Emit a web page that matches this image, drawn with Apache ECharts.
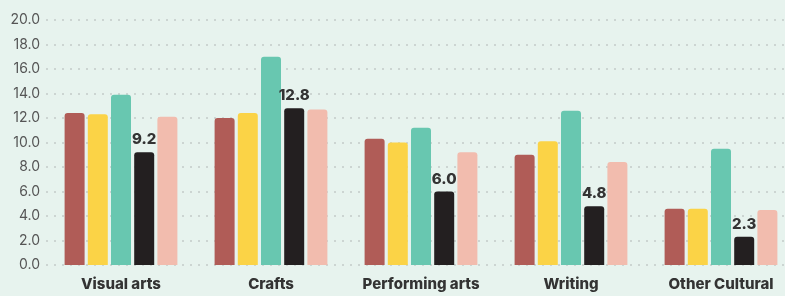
<!DOCTYPE html>
<html>
<head>
<meta charset="utf-8">
<script src="https://cdn.jsdelivr.net/npm/echarts@6/dist/echarts.min.js"></script>
<style>
  html, body { margin: 0; padding: 0; background: #e7f3ee; }
  #chart { width: 785px; height: 296px; }
</style>
</head>
<body>
<div id="chart"></div>
<script>
const categories = ["Visual arts", "Crafts", "Performing arts", "Writing", "Other Cultural"];
const seriesA = [12.4, 12.0, 10.3, 9.0, 4.6];
const seriesB = [12.3, 12.4, 10.0, 10.1, 4.6];
const seriesC = [13.9, 17.0, 11.2, 12.6, 9.5];
const seriesD = [9.2, 12.8, 6.0, 4.8, 2.3];
const seriesE = [12.1, 12.7, 9.2, 8.4, 4.5];
const colors = ["#b05c57", "#fbd346", "#68c7b0", "#231f20", "#f2bcae"];

const allSeries = [seriesA, seriesB, seriesC, seriesD, seriesE];

const option = {
  backgroundColor: "#e7f3ee",
  animation: false,
  // plot runs a bit past the right edge, as in the original
  grid: { left: 46, width: 750, top: 20, bottom: 31, outerBoundsMode: "none" },
  xAxis: {
    type: "category",
    data: categories,
    axisLine: { show: false },
    axisTick: { show: false },
    axisLabel: {
      interval: 0,
      margin: 12,
      color: "#333",
      fontFamily: "Inter",
      fontWeight: 800,
      fontSize: 15
    }
  },
  yAxis: {
    type: "value",
    min: 0,
    max: 20,
    interval: 2,
    axisLine: { show: false },
    axisTick: { show: false },
    axisLabel: {
      margin: 6,
      color: "#555",
      fontFamily: "Inter",
      fontSize: 14,
      formatter: v => v.toFixed(1)
    },
    splitLine: {
      lineStyle: { color: "#c4ccc9", type: [2, 6], width: 1.5 }
    }
  },
  series: allSeries.map((data, i) => ({
    type: "bar",
    data: data,
    barWidth: 20,
    barGap: "16%",
    itemStyle: { color: colors[i], borderRadius: [3, 3, 0, 0] },
    label: {
      show: i === 3,
      position: "top",
      distance: 5,
      color: "#333",
      fontFamily: "Inter",
      fontWeight: 800,
      fontSize: 15,
      formatter: p => p.value.toFixed(1)
    }
  }))
};

const chart = echarts.init(document.getElementById("chart"));
chart.setOption(option);
</script>
</body>
</html>
